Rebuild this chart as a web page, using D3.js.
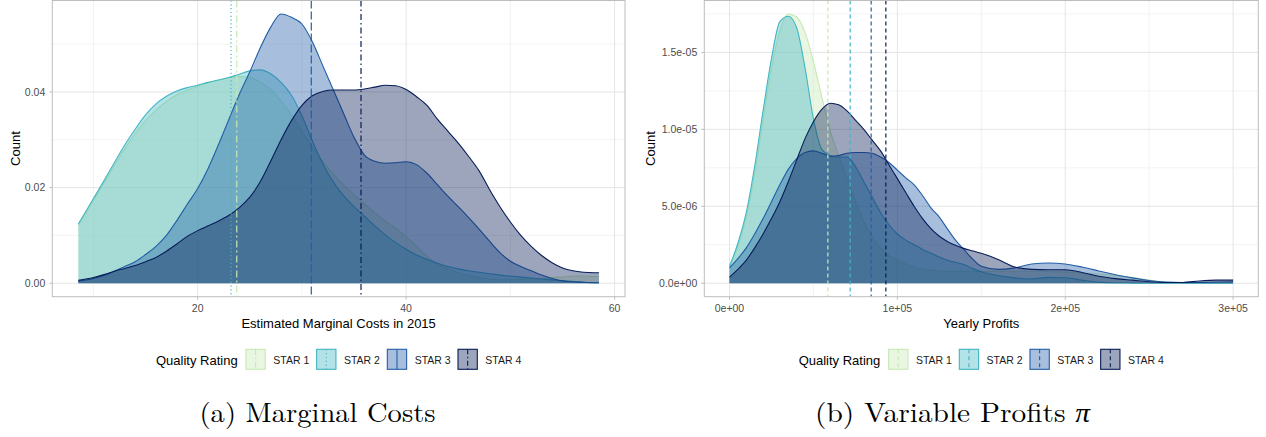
<!DOCTYPE html>
<html><head><meta charset="utf-8">
<script src="https://cdn.jsdelivr.net/npm/d3@7"></script>
<style>
body{margin:0;background:#fff}
svg{display:block}
text{font-family:"Liberation Sans",Arial,Helvetica,sans-serif}
.cap{font-family:"Latin Modern Roman","CMU Serif","Liberation Serif","Times New Roman",serif}
</style>
</head><body>
<svg id="c" width="1266" height="437"></svg>
<script>
// ---------- data ----------
const groups = ["STAR 1", "STAR 2", "STAR 3", "STAR 4"];
const colors = ["#c7e9b4", "#41b6c4", "#225ea8", "#081d58"];

// (a) Marginal costs: density curves
const mcGrid = [8.55,10,11,12,13,14,15,16,17,18,19,20,21,22,23,24,25,26,27,28,29,30,31,32,33,34,35,36,37,38,39,40,41,42,43,44,45,46,47,48,49,50,51,52,53,54,55,56,57,58,58.5];
const mcStar1 = [.0121,.0173,.0209,.0246,.0281,.0313,.0340,.0362,.0380,.0394,.0404,.0412,.0419,.0425,.0430,.0432,.0430,.0421,.0405,.0381,.0352,.0318,.0285,.0255,.0228,.0205,.0185,.0166,.0147,.0130,.0115,.0097,.0077,.0056,.0040,.0030,.0022,.0016,.0012,.0009,.0007,.0007,.0008,.0009,.0010,.0012,.0013,.0015,.0015,.0014,.0014];
const mcStar2 = [.0124,.0177,.0214,.0252,.0289,.0322,.0352,.0375,.0391,.0402,.0409,.0414,.0420,.0425,.0430,.0437,.0444,.0446,.0438,.0420,.0393,.0350,.0298,.0250,.0212,.0183,.0160,.0140,.0120,.0101,.0085,.0071,.0059,.0050,.0042,.0035,.0030,.0026,.0023,.0020,.0017,.0015,.0013,.0011,.0009,.0007,.0005,.0004,.0002,.0001,.0001];
const mcStar3 = [.0004,.0010,.0016,.0025,.0035,.0045,.0060,.0077,.0100,.0131,.0165,.0198,.0240,.0290,.0343,.0395,.0442,.0492,.0535,.0563,.0556,.0542,.0505,.0455,.0405,.0355,.0305,.0268,.0255,.0251,.0252,.0254,.0248,.0230,.0206,.0182,.0160,.0137,.0113,.0088,.0064,.0046,.0035,.0026,.0017,.0010,.0005,.0003,.0002,.0001,.0001];
const mcStar4 = [.0006,.0012,.0018,.0025,.0031,.0037,.0045,.0054,.0067,.0082,.0098,.0110,.0120,.0130,.0142,.0158,.0180,.0212,.0255,.0300,.0340,.0372,.0392,.0401,.0404,.0404,.0404,.0406,.0410,.0414,.0413,.0405,.0390,.0372,.0343,.0318,.0293,.0265,.0235,.0196,.0160,.0128,.0100,.0077,.0058,.0043,.0032,.0026,.0023,.0022,.0022];
const mcMeans = [23.75, 23.2, 30.9, 35.67];
const mcXTicks = [20, 40, 60], mcXTickLabels = ["20", "40", "60"], mcXMinor = [10, 30, 50];
const mcYTicks = [0, 0.02, 0.04], mcYTickLabels = ["0.00", "0.02", "0.04"], mcYMinor = [0.01, 0.03, 0.05];

// (b) Variable profits: density curves (values in units of 1e-6)
const pfGrid = [0,5000,10000,15000,20000,25000,30000,35000,40000,45000,50000,55000,60000,65000,70000,75000,80000,85000,90000,95000,100000,105000,110000,115000,120000,125000,130000,135000,140000,145000,150000,160000,170000,180000,190000,200000,210000,220000,230000,240000,250000,260000,270000,280000,290000,300000];
const pfUnit = 1e-6;
const pfStar1 = [1.1,2.4,4.3,7.1,10.6,14.0,16.4,17.5,17.3,16.3,14.4,12.1,9.9,8.3,6.8,5.3,4.0,3.0,2.3,1.8,1.5,1.25,1.05,0.92,0.84,0.8,0.78,0.77,0.77,0.77,0.77,0.77,0.78,0.78,0.75,0.72,0.67,0.6,0.5,0.38,0.2,0.07,0.02,0.01,0.01,0.01];
const pfStar2 = [1.1,2.6,4.6,7.6,11.2,14.6,17.0,17.35,16.6,14.0,10.7,8.7,8.3,8.2,8.2,7.6,6.6,5.6,4.6,3.8,3.2,2.8,2.5,2.2,1.95,1.7,1.5,1.35,1.2,0.95,0.75,0.5,0.35,0.28,0.38,0.36,0.2,0.07,0.02,0.01,0,0,0,0,0,0];
const pfStar3 = [1.0,1.6,2.3,3.2,4.2,5.3,6.4,7.4,8.1,8.5,8.6,8.45,8.25,8.3,8.45,8.5,8.5,8.45,8.2,7.85,7.35,6.85,6.4,5.7,4.9,4.3,3.5,2.75,2.15,1.55,1.1,0.9,1.0,1.25,1.32,1.25,1.05,0.8,0.55,0.35,0.18,0.08,0.05,0.05,0.08,0.1];
const pfStar4 = [0.4,0.9,1.5,2.3,3.2,4.2,5.3,6.6,8.0,9.4,10.5,11.3,11.7,11.6,11.2,10.6,10.0,9.3,8.6,7.7,6.8,5.9,5.0,4.2,3.55,3.05,2.7,2.45,2.25,2.1,1.95,1.55,1.05,0.9,0.88,0.88,0.7,0.45,0.3,0.2,0.1,0.05,0.05,0.15,0.2,0.2];
const pfMeans = [58600, 71900, 84400, 93150];
const pfXTicks = [0, 100000, 200000, 300000], pfXTickLabels = ["0e+00", "1e+05", "2e+05", "3e+05"], pfXMinor = [50000, 150000, 250000];
const pfYTicks = [0, 5e-6, 1e-5, 1.5e-5], pfYTickLabels = ["0.0e+00", "5.0e-06", "1.0e-05", "1.5e-05"], pfYMinor = [2.5e-6, 7.5e-6, 1.25e-5, 1.75e-5];

// ---------- drawing ----------
const svg = d3.select("#c");

function drawPanel(cfg) {
  const {x0, x1, y0, y1} = cfg;
  const g = svg.append("g");
  const xs = cfg.grid;
  const xr = d3.extent(xs), xpad = (xr[1] - xr[0]) * 0.05;
  const ymax = d3.max(cfg.series, s => d3.max(s)) * cfg.unit;
  const x = d3.scaleLinear().domain([xr[0] - xpad, xr[1] + xpad]).range([x0, x1]);
  const y = d3.scaleLinear().domain([-0.05 * ymax, ymax * 1.05]).range([y1, y0]);

  const clipId = "clip" + cfg.id;
  svg.append("clipPath").attr("id", clipId).append("rect")
    .attr("x", x0).attr("y", y0).attr("width", x1 - x0).attr("height", y1 - y0);
  const inner = g.append("g").attr("clip-path", `url(#${clipId})`);

  // grid
  inner.selectAll(".xmin").data(cfg.xMinor).join("line")
    .attr("x1", d => x(d)).attr("x2", d => x(d)).attr("y1", y0).attr("y2", y1)
    .attr("stroke", "#f0f0f0").attr("stroke-width", 0.8);
  inner.selectAll(".ymin").data(cfg.yMinor).join("line")
    .attr("y1", d => y(d)).attr("y2", d => y(d)).attr("x1", x0).attr("x2", x1)
    .attr("stroke", "#f0f0f0").attr("stroke-width", 0.8);
  inner.selectAll(".xmaj").data(cfg.xTicks).join("line")
    .attr("x1", d => x(d)).attr("x2", d => x(d)).attr("y1", y0).attr("y2", y1)
    .attr("stroke", "#e5e5e5").attr("stroke-width", 1);
  inner.selectAll(".ymaj").data(cfg.yTicks).join("line")
    .attr("y1", d => y(d)).attr("y2", d => y(d)).attr("x1", x0).attr("x2", x1)
    .attr("stroke", "#e5e5e5").attr("stroke-width", 1);

  // densities
  const area = d3.area().x(d => x(d[0])).y0(y(0)).y1(d => y(d[1] * cfg.unit)).curve(d3.curveMonotoneX);
  const line = d3.line().x(d => x(d[0])).y(d => y(d[1] * cfg.unit)).curve(d3.curveMonotoneX);
  cfg.series.forEach((s, i) => {
    const pts = xs.map((v, k) => [v, s[k]]);
    inner.append("path").attr("d", area(pts)).attr("fill", colors[i]).attr("fill-opacity", 0.4);
    inner.append("path").attr("d", line(pts)).attr("fill", "none").attr("stroke", colors[i]).attr("stroke-width", 1.1);
  });

  // mean lines
  cfg.means.forEach((m, i) => {
    inner.append("line").attr("x1", x(m)).attr("x2", x(m)).attr("y1", y0).attr("y2", y1)
      .attr("stroke", colors[i]).attr("stroke-width", 1.2)
      .attr("stroke-dasharray", cfg.vDash[i]);
  });

  // border
  g.append("rect").attr("x", x0).attr("y", y0).attr("width", x1 - x0).attr("height", y1 - y0)
    .attr("fill", "none").attr("stroke", "#bdbdbd").attr("stroke-width", 1);

  // ticks
  g.selectAll(".xt").data(cfg.xTicks).join("line")
    .attr("x1", d => x(d)).attr("x2", d => x(d)).attr("y1", y1).attr("y2", y1 + 3)
    .attr("stroke", "#bdbdbd");
  g.selectAll(".yt").data(cfg.yTicks).join("line")
    .attr("y1", d => y(d)).attr("y2", d => y(d)).attr("x1", x0 - 3).attr("x2", x0)
    .attr("stroke", "#bdbdbd");
  g.selectAll(".xl").data(cfg.xTicks).join("text")
    .attr("x", d => x(d)).attr("y", 312).attr("text-anchor", "middle")
    .attr("font-size", 10.5).attr("fill", "#4d4d4d").text((d, i) => cfg.xTickLabels[i]);
  g.selectAll(".yl").data(cfg.yTicks).join("text")
    .attr("x", x0 - 7).attr("y", d => y(d) + 3.7).attr("text-anchor", "end")
    .attr("font-size", 10.5).attr("fill", "#4d4d4d").text((d, i) => cfg.yTickLabels[i]);

  // titles
  g.append("text").attr("x", (x0 + x1) / 2).attr("y", 328).attr("text-anchor", "middle")
    .attr("font-size", 13).attr("fill", "#000").text(cfg.xTitle);
  g.append("text").attr("transform", `translate(${cfg.yTitleX},${(y0 + y1) / 2}) rotate(-90)`)
    .attr("text-anchor", "middle").attr("font-size", 13).attr("fill", "#000").text("Count");

  // legend
  const lg = g.append("g");
  const title = lg.append("text").attr("x", 0).attr("y", 364.5).attr("font-size", 13).text("Quality Rating");
  let cx = title.node().getComputedTextLength() + 8.3;
  const kw = 19.3, kh = 20, ky = 349.3;
  groups.forEach((lab, i) => {
    lg.append("rect").attr("x", cx).attr("y", ky).attr("width", kw).attr("height", kh)
      .attr("fill", colors[i]).attr("fill-opacity", 0.4)
      .attr("stroke", colors[i]).attr("stroke-width", 1.1);
    lg.append("line").attr("x1", cx + kw / 2).attr("x2", cx + kw / 2).attr("y1", ky).attr("y2", ky + kh)
      .attr("stroke", colors[i]).attr("stroke-width", 1.1).attr("stroke-dasharray", cfg.keyDash[i]);
    const t = lg.append("text").attr("x", cx + kw + 8).attr("y", 364).attr("font-size", 10.5).attr("fill", "#1a1a1a").text(lab);
    cx += kw + 8 + t.node().getComputedTextLength() + 7.4;
  });
  const total = cx - 7.4;
  lg.attr("transform", `translate(${(x0 + x1) / 2 - total / 2},0)`);

  // caption
  const cap = svg.append("text").attr("class", "cap").attr("x", cfg.capX).attr("y", 422)
    .attr("text-anchor", "middle").attr("font-size", 27).attr("fill", "#000")
    .attr("textLength", cfg.capW).attr("lengthAdjust", "spacingAndGlyphs");
  cfg.caption.forEach(p => {
    const ts = cap.append("tspan").text(p.t);
    if (p.it) ts.attr("font-style", "italic");
  });
}

drawPanel({
  id: "a", x0: 52.3, x1: 625, y0: 0.5, y1: 296.7,
  grid: mcGrid, series: [mcStar1, mcStar2, mcStar3, mcStar4], unit: 1,
  means: mcMeans,
  vDash: ["7,3,2,3", "1.2,2.6", "8,3", "6,3,1.5,3"],
  keyDash: ["6,2.5,1.5,2.5", "1.2,2.6", null, "5,2.5,1.5,2.5"],
  xTicks: mcXTicks, xTickLabels: mcXTickLabels, xMinor: mcXMinor,
  yTicks: mcYTicks, yTickLabels: mcYTickLabels, yMinor: mcYMinor,
  xTitle: "Estimated Marginal Costs in 2015", yTitleX: 20,
  caption: [{t: "(a) Marginal Costs"}], capX: 317.5, capW: 236
});

drawPanel({
  id: "b", x0: 704.3, x1: 1258.3, y0: 0.5, y1: 296.7,
  grid: pfGrid, series: [pfStar1, pfStar2, pfStar3, pfStar4], unit: pfUnit,
  means: pfMeans,
  vDash: ["4,3", "4,3", "4,3", "4,3"],
  keyDash: ["4,3", "4,3", "4,3", "4,3"],
  xTicks: pfXTicks, xTickLabels: pfXTickLabels, xMinor: pfXMinor,
  yTicks: pfYTicks, yTickLabels: pfYTickLabels, yMinor: pfYMinor,
  xTitle: "Yearly Profits", yTitleX: 655,
  caption: [{t: "(b) Variable Profits "}, {t: "π", it: true}], capX: 952.5, capW: 275
});
</script>
</body></html>
